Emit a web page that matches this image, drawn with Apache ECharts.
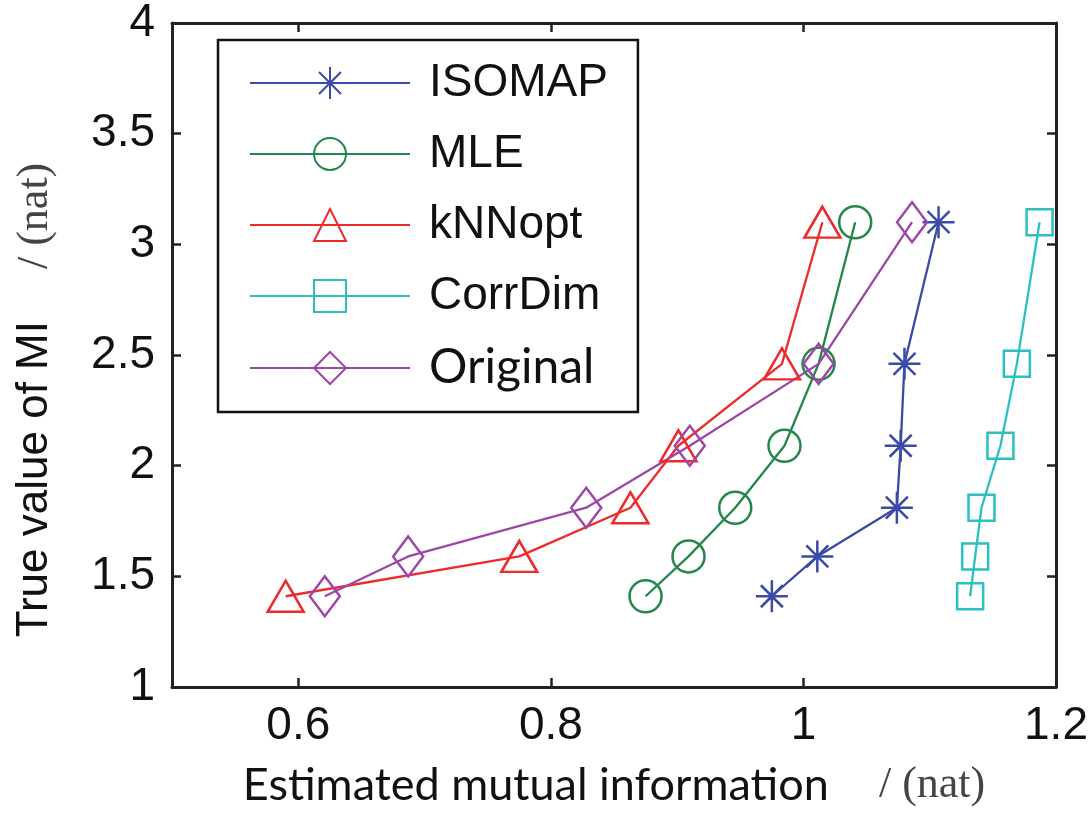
<!DOCTYPE html>
<html lang="en">
<head>
    <meta charset="UTF-8">
    <title>True vs estimated MI</title>
    <script src="https://cdn.jsdelivr.net/npm/echarts@6/dist/echarts.min.js"></script>
    <style>
        html, body { margin: 0; padding: 0; background: #fff; }
        #chart { width: 1092px; height: 813px; }
    </style>
</head>
<body>
<div id="chart"></div>
<script>
    // true MI levels (y) shared by all methods
    var trueMI = [1.41, 1.59, 1.81, 2.09, 2.46, 3.10];

    // estimated MI (x) per method, same order as trueMI
    var isomap   = [0.975, 1.011, 1.074, 1.077, 1.080, 1.107];
    var mle      = [0.875, 0.909, 0.946, 0.985, 1.012, 1.041];
    var knnopt   = [0.590, 0.775, 0.863, 0.901, 0.983, 1.015];
    var corrdim  = [1.132, 1.136, 1.141, 1.156, 1.169, 1.187];
    var original = [0.621, 0.687, 0.828, 0.910, 1.012, 1.086];

    var xTicks = [0.6, 0.8, 1, 1.2];

    var names   = ['ISOMAP', 'MLE', 'kNNopt', 'CorrDim', 'Original'];
    var colors  = ['#3a4aa6', '#23874a', '#ee2a2a', '#2bbfbf', '#9e45a9'];

    var starPath = 'path://M16,0L16,32M0,16L32,16M5,5L27,27M5,27L27,5';

    function pairs(xs) {
        var out = [];
        for (var i = 0; i < xs.length; i++) {
            out.push([xs[i], trueMI[i]]);
        }
        return out;
    }

    function makeSeries(name, xs, color, symbol, size) {
        return {
            name: name,
            type: 'line',
            data: pairs(xs),
            symbol: symbol,
            symbolSize: size,
            showAllSymbol: true,
            lineStyle: { color: color, width: 2.3 },
            itemStyle: { color: 'transparent', borderColor: color, borderWidth: 2.5 },
            emphasis: { disabled: true },
            silent: true
        };
    }

    var chart = echarts.init(document.getElementById('chart'));

    var axisLine = { show: true, lineStyle: { color: '#222', width: 3 } };
    var tick = { show: true, inside: true, length: 9, lineStyle: { color: '#222', width: 2.5 } };

    var option = {
        animation: false,
        backgroundColor: '#fff',
        grid: { left: 172, right: 36, top: 22, bottom: 124 },
        legend: {
            orient: 'vertical',
            left: 218,
            top: 40,
            backgroundColor: '#fff',
            borderColor: '#111',
            borderWidth: 2.5,
            borderRadius: 0,
            padding: [20, 30, 20, 31],
            itemWidth: 160,
            itemHeight: 40,
            itemGap: 25,
            data: names,
            selectedMode: false,
            formatter: function (n) {
                return n === 'Original' ? '{c|' + n + '}' : n;
            },
            textStyle: {
                fontFamily: 'Liberation Sans',
                fontSize: 46,
                color: '#111',
                lineHeight: 40,
                padding: [0, 0, 0, 14],
                rich: {
                    c: { fontFamily: 'Lato', fontSize: 48, color: '#111', lineHeight: 40 }
                }
            }
        },
        xAxis: [{
            type: 'value',
            min: 0.5,
            max: 1.2,
            position: 'bottom',
            axisLine: axisLine,
            axisTick: Object.assign({ customValues: xTicks }, tick),
            axisLabel: {
                customValues: xTicks,
                margin: 16,
                fontFamily: 'Liberation Sans',
                fontSize: 46,
                color: '#111'
            },
            splitLine: { show: false },
            name: '{a|Estimated mutual information}{b|/ (nat)}',
            nameLocation: 'middle',
            nameGap: 76,
            nameTextStyle: {
                rich: {
                    a: { fontFamily: 'Lato', fontSize: 45, color: '#111' },
                    b: { fontFamily: 'Liberation Serif', fontSize: 44, color: '#444', padding: [0, 0, 0, 50] }
                }
            }
        }, {
            type: 'value',
            min: 0.5,
            max: 1.2,
            position: 'top',
            axisLine: axisLine,
            axisTick: Object.assign({ customValues: xTicks }, tick),
            axisLabel: { show: false },
            splitLine: { show: false }
        }],
        yAxis: [{
            type: 'value',
            min: 1,
            max: 4,
            interval: 0.5,
            position: 'left',
            axisLine: axisLine,
            axisTick: tick,
            axisLabel: {
                margin: 17,
                fontFamily: 'Liberation Sans',
                fontSize: 46,
                color: '#111'
            },
            splitLine: { show: false },
            name: '{a|True value of MI}{b|/ (nat)}',
            nameLocation: 'middle',
            nameGap: 115,
            nameTextStyle: {
                rich: {
                    a: { fontFamily: 'Liberation Sans', fontSize: 44, color: '#111' },
                    b: { fontFamily: 'Liberation Serif', fontSize: 44, color: '#444', padding: [0, 90, 0, 52] }
                }
            }
        }, {
            type: 'value',
            min: 1,
            max: 4,
            interval: 0.5,
            position: 'right',
            axisLine: axisLine,
            axisTick: tick,
            axisLabel: { show: false },
            splitLine: { show: false }
        }],
        series: [
            makeSeries('ISOMAP', isomap, colors[0], starPath, 32),
            makeSeries('MLE', mle, colors[1], 'circle', 32),
            makeSeries('kNNopt', knnopt, colors[2], 'triangle', [36, 31]),
            makeSeries('CorrDim', corrdim, colors[3], 'rect', 26),
            makeSeries('Original', original, colors[4], 'diamond', [30, 40])
        ]
    };

    chart.setOption(option);
</script>
</body>
</html>
